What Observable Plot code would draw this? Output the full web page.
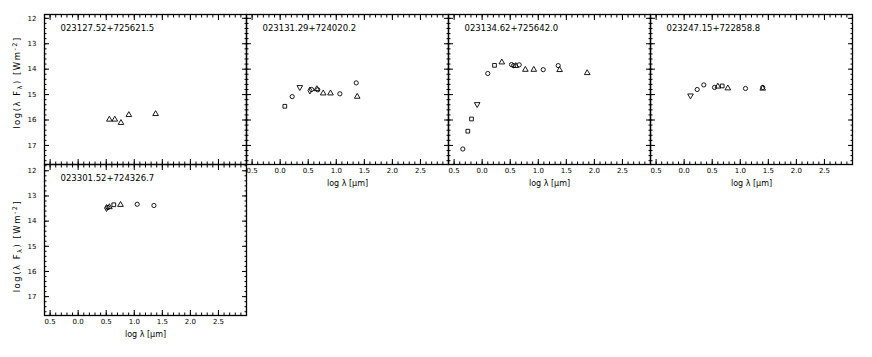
<!DOCTYPE html>
<html><head><meta charset="utf-8">
<script src="https://cdn.jsdelivr.net/npm/d3@7"></script>
<script src="https://cdn.jsdelivr.net/npm/@observablehq/plot@0.6"></script>
<style>
body{margin:0;background:#fff;}
#chart{position:relative;width:872px;height:357px;overflow:hidden;background:#fff;}
#chart svg{position:absolute;left:0;top:0;}
</style></head><body><div id="chart"></div>
<script>
// ---- data ----
const panelNames = ["023127.52+725621.5","023131.29+724020.2","023134.62+725642.0","023247.15+722858.8","023301.52+724326.7"];

const p1X = [0.556, 0.653, 0.763, 0.903, 1.380];
const p1Y = [15.98, 15.98, 16.11, 15.80, 15.76];
const p1S = ["triangle","triangle","triangle","triangle","triangle"];

const p2X = [0.083, 0.214, 0.350, 0.530, 0.560, 0.653, 0.670, 0.767, 0.897, 1.064, 1.355, 1.373];
const p2Y = [15.46, 15.08, 14.71, 14.84, 14.80, 14.78, 14.81, 14.95, 14.95, 14.97, 14.54, 15.08];
const p2S = ["square","circle","invtriangle","diamond","circle","triangle","circle","triangle","triangle","circle","circle","triangle"];

const p3X = [-0.345, -0.256, -0.190, -0.089, 0.100, 0.220, 0.350, 0.523, 0.560, 0.600, 0.660, 0.770, 0.920, 1.088, 1.355, 1.380, 1.872];
const p3Y = [17.14, 16.44, 15.96, 15.38, 14.17, 13.85, 13.73, 13.82, 13.86, 13.87, 13.83, 14.02, 14.02, 14.02, 13.86, 14.03, 14.15];
const p3S = ["circle","square","square","invtriangle","circle","square","triangle","circle","circle","triangle","circle","triangle","triangle","circle","circle","triangle","triangle"];

const p4X = [0.113, 0.232, 0.350, 0.541, 0.600, 0.678, 0.778, 1.093, 1.400, 1.400];
const p4Y = [15.04, 14.80, 14.62, 14.72, 14.68, 14.66, 14.75, 14.76, 14.72, 14.76];
const p4S = ["invtriangle","circle","circle","circle","triangle","square","triangle","circle","circle","triangle"];

const p5X = [0.505, 0.530, 0.556, 0.635, 0.755, 1.052, 1.350];
const p5Y = [13.48, 13.46, 13.44, 13.35, 13.35, 13.33, 13.38];
const p5S = ["diamond","circle","triangle","square","triangle","circle","circle"];

const xMajorTicks = [-0.5, 0.0, 0.5, 1.0, 1.5, 2.0, 2.5];
const yMajorTicks = [12, 13, 14, 15, 16, 17];
const xLabelText = "log λ [μm]";
const yLabelText = "log(λ Fλ) [Wm-2]";

// ---- rendering ----
const W = 872, H = 357;
const xMinorTicks = d3.range(-6, 31).map(i => i / 10);
const yMinorTicks = d3.range(59, 90).map(i => i / 5);

const invTriangle = {
  draw(context, size) {
    const s3 = Math.sqrt(3);
    const y = -Math.sqrt(size / (s3 * 3));
    context.moveTo(0, -y * 2);
    context.lineTo(-s3 * y, y);
    context.lineTo(s3 * y, y);
    context.closePath();
  }
};

function makePanel(cfg) {
  const {name, xs, ys, ss, left, top, w, h, ydom, xLabels, yLabels} = cfg;
  const data = xs.map((x, i) => ({x, y: ys[i], s: ss[i]}));
  const yMinor = yMinorTicks.filter(v => v >= Math.min(...ydom) && v <= Math.max(...ydom));
  const blank = () => "";
  const marks = [
    Plot.axisX({anchor: "bottom", ticks: xMajorTicks, tickSize: -5, tickFormat: blank, label: null}),
    Plot.axisX({anchor: "top", ticks: xMajorTicks, tickSize: -5, tickFormat: blank, label: null}),
    Plot.axisX({anchor: "bottom", ticks: xMinorTicks, tickSize: -2.5, tickFormat: blank, label: null}),
    Plot.axisX({anchor: "top", ticks: xMinorTicks, tickSize: -2.5, tickFormat: blank, label: null}),
    Plot.axisY({anchor: "left", ticks: yMajorTicks, tickSize: -5, tickFormat: blank, label: null}),
    Plot.axisY({anchor: "right", ticks: yMajorTicks, tickSize: -5, tickFormat: blank, label: null}),
    Plot.axisY({anchor: "left", ticks: yMinor, tickSize: -2.5, tickFormat: blank, label: null}),
    Plot.axisY({anchor: "right", ticks: yMinor, tickSize: -2.5, tickFormat: blank, label: null}),
    Plot.frame({stroke: "#000", strokeWidth: 1.3}),
    Plot.dot(data, {x: "x", y: "y", symbol: "s", r: 2.1, stroke: "#000", strokeWidth: 0.9, fill: "none"}),
    Plot.text([name], {text: d => d, frameAnchor: "top-left", dx: 16, dy: 14, textAnchor: "start", lineAnchor: "middle", fontSize: 8.5})
  ];
  if (xLabels) {
    marks.push(Plot.axisX({anchor: "bottom", ticks: xMajorTicks, tickSize: 0, tickPadding: 4,
      tickFormat: d => Math.abs(d).toFixed(1), label: null, fontSize: 7}));
    marks.push(Plot.text([xLabelText], {text: d => d, frameAnchor: "bottom", dy: 19, lineAnchor: "middle", fontSize: 8}));
  }
  if (yLabels) {
    marks.push(Plot.axisY({anchor: "left", ticks: yMajorTicks, tickSize: 0, tickPadding: 8,
      tickFormat: d => String(d), label: null, fontSize: 7}));
    marks.push(Plot.text([yLabelText], {text: d => d, frameAnchor: "left", dx: -27, dy: cfg.ylabDy, rotate: -90,
      textAnchor: "middle", lineAnchor: "middle", fontSize: 8.5}));
  }
  const svg = Plot.plot({
    width: W, height: H,
    marginLeft: left, marginTop: top, marginRight: W - left - w, marginBottom: H - top - h,
    style: {background: "transparent", fontFamily: "DejaVu Sans, sans-serif", fontSize: "7px", color: "#000"},
    x: {domain: [-0.6, 3.0]},
    y: {domain: [ydom[1], ydom[0]]},
    symbol: {domain: ["circle", "square", "triangle", "diamond", "invtriangle"],
             range: [d3.symbolCircle, d3.symbolSquare, d3.symbolTriangle, d3.symbolDiamond, invTriangle]},
    marks
  });
  // sub/superscripts in the y label
  svg.querySelectorAll("text").forEach(t => {
    if (t.textContent === yLabelText) {
      t.textContent = "";
      t.setAttribute("letter-spacing", "1.5");
      const ns = "http://www.w3.org/2000/svg";
      const add = (s, dy, fs) => {
        const ts = document.createElementNS(ns, "tspan");
        ts.textContent = s;
        if (dy) ts.setAttribute("dy", dy);
        if (fs) ts.setAttribute("font-size", fs);
        t.appendChild(ts);
      };
      add("log(λ F");
      add("λ", "2", "6.5");
      add(") [Wm", "-2");
      add("-2", "-3", "6.5");
      add("]", "3");
    }
  });
  document.getElementById("chart").appendChild(svg);
}

const topY = [11.85, 17.75];
const botY = [11.75, 17.75];
const lefts = [44, 246, 448, 650];
makePanel({name: panelNames[0], xs: p1X, ys: p1Y, ss: p1S, left: lefts[0], top: 14, w: 202, h: 150, ydom: topY, xLabels: false, yLabels: true, ylabDy: -7});
makePanel({name: panelNames[1], xs: p2X, ys: p2Y, ss: p2S, left: lefts[1], top: 14, w: 202, h: 150, ydom: topY, xLabels: true, yLabels: false});
makePanel({name: panelNames[2], xs: p3X, ys: p3Y, ss: p3S, left: lefts[2], top: 14, w: 202, h: 150, ydom: topY, xLabels: true, yLabels: false});
makePanel({name: panelNames[3], xs: p4X, ys: p4Y, ss: p4S, left: lefts[3], top: 14, w: 202, h: 150, ydom: topY, xLabels: true, yLabels: false});
makePanel({name: panelNames[4], xs: p5X, ys: p5Y, ss: p5S, left: lefts[0], top: 164, w: 202, h: 151, ydom: botY, xLabels: true, yLabels: true, ylabDy: 6});
</script></body></html>
